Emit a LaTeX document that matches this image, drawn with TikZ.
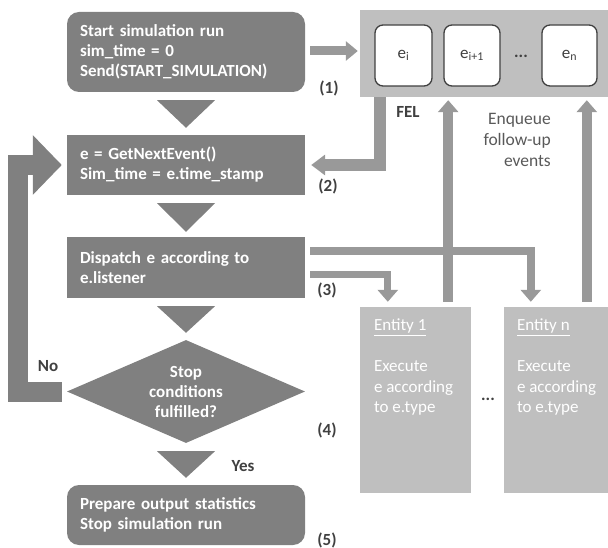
\documentclass[tikz,border=0pt]{standalone}
\usepackage{fontspec}
\setmainfont{Carlito}
\usetikzlibrary{arrows.meta,shapes.geometric,calc}
\definecolor{boxgray}{HTML}{808080}
\definecolor{ltfill}{HTML}{BFBFBF}
\definecolor{arrgray}{HTML}{999999}
\definecolor{txtdark}{HTML}{404040}
\definecolor{enqcol}{HTML}{595959}
\begin{document}
\begin{tikzpicture}[x=1pt,y=-1pt,
  dbox/.style={fill=boxgray, text=white, font=\fontsize{17}{20}\selectfont\bfseries, align=left, text width=212pt, inner xsep=13pt, inner ysep=0pt, minimum width=238pt},
  ebox/.style={draw=txtdark, line width=1.3pt, fill=white, rounded corners=8pt, text=txtdark, font=\fontsize{17}{20}\selectfont, minimum height=61pt, inner sep=0pt},
  ltbox/.style={fill=ltfill, draw=none, inner sep=0pt},
  wtext/.style={text=white, font=\fontsize{17}{20.5}\selectfont, align=left, inner sep=0pt},
  lab/.style={text=txtdark, font=\fontsize{17}{20}\selectfont\bfseries, inner sep=0pt},
  bigarr/.style={draw=boxgray, line width=20pt, line join=miter, -{Triangle[width=58pt,length=29pt]}},
  medarr/.style={draw=arrgray, line width=#1, line join=miter},
  tri/.style={fill=boxgray}
]
\useasboundingbox (0,0) rectangle (608,548);

% left column
\node[dbox, rounded corners=12pt, minimum height=80pt] (start) at (186,52) {Start simulation run\\sim\_time = 0\\Send(START\_SIMULATION)};
\node[dbox, minimum height=60pt] (b2) at (186,165) {e = GetNextEvent()\\Sim\_time = e.time\_stamp};
\node[dbox, minimum height=61pt] (disp) at (186,267.5) {Dispatch e according to\\e.listener};
\node[diamond, fill=boxgray, aspect=2.3, minimum width=238pt, minimum height=103pt, inner sep=0pt, text=white, font=\fontsize{17}{20}\selectfont\bfseries, align=center] (dia) at (186,391.5) {Stop\\conditions\\fulfilled?};
\node[dbox, rounded corners=12pt, minimum height=60pt] (fin) at (186,515) {Prepare output statistics\\Stop simulation run};

% triangles
\fill[tri] ($(start.south)+(-29,8)$) -- ($(start.south)+(29,8)$) -- ($(b2.north)+(0,-7)$) -- cycle;
\fill[tri] ($(b2.south)+(-29,8)$) -- ($(b2.south)+(29,8)$) -- ($(disp.north)+(0,-5)$) -- cycle;
\fill[tri] ($(disp.south)+(-29,8)$) -- ($(disp.south)+(29,8)$) -- ($(dia.north)+(0,-7)$) -- cycle;
\fill[tri] ($(dia.south)+(-29,8)$) -- ($(dia.south)+(29,8)$) -- ($(fin.north)+(0,-7)$) -- cycle;

% FEL
\node[ltbox, minimum width=248pt, minimum height=87pt] (fel) at (484,53.5) {};
\node[ebox, minimum width=57pt] (ei) at (403.5,55.5) {e\textsubscript{i}};
\node[ebox, minimum width=56pt] (ei1) at (472,55.5) {e\textsubscript{i+1}};
\node[lab] (fdots) at (521,56) {...};
\node[ebox, minimum width=55pt] (en) at (569.5,55.5) {e\textsubscript{n}};

% entities
\node[ltbox, minimum width=111pt, minimum height=186pt] (ent1) at (415.5,400) {};
\node[ltbox, minimum width=104pt, minimum height=186pt] (entn) at (556,400) {};
\node[wtext, anchor=north west] (ent1t) at ($(ent1.north west)+(14,12)$) {\underline{Entity 1}\\[20.5pt]Execute\\e according\\to e.type};
\node[wtext, anchor=north west] (entnt) at ($(entn.north west)+(13,12)$) {\underline{Entity n}\\[20.5pt]Execute\\e according\\to e.type};
\node[lab] (edots) at (488,399) {...};

% labels
\node[lab] (l1) at (329,88) {(1)};
\node[lab] (l2) at (328,186) {(2)};
\node[lab] (l3) at (327,290) {(3)};
\node[lab] (l4) at (327,430) {(4)};
\node[lab] (l5) at (327,540) {(5)};
\node[lab] (fellab) at (408,112) {FEL};
\node[lab] (no) at (48,366) {No};
\node[lab] (yes) at (243,466) {Yes};
\node[anchor=north east, align=right, inner sep=0pt, text=enqcol, font=\fontsize{17.5}{21}\selectfont] (enq) at (551,113) {Enqueue\\follow-up\\events};

% arrows
\draw[medarr=9pt, -{Triangle[width=19pt,length=12pt]}] ($(start.east)+(5,-1)$) -- ($(start.east -| fel.west)+(-2,-1)$);
\draw[medarr=12pt, -{Triangle[width=20pt,length=14pt]}] ($(ei.west |- fel.south)+(6,0)$) |- ($(b2.east)+(6,0)$);
\draw[medarr=8pt, -{Triangle[width=20pt,length=12pt]}] ($(disp.east)+(5,-16)$) -| ($(entn.north west)+(27,-5)$);
\draw[medarr=7pt, -{Triangle[width=20pt,length=12pt]}] ($(disp.east)+(5,7.5)$) -| ($(ent1.north west)+(28,-5)$);
\draw[medarr=10pt, -{Triangle[width=20pt,length=12pt]}] ($(ent1.north east)+(-23,-5)$) -- ($(ent1.north east |- fel.south)+(-23,3)$);
\draw[medarr=10pt, -{Triangle[width=20pt,length=12pt]}] ($(entn.north west)+(83,-5)$) -- ($(entn.north west |- fel.south)+(83,3)$);
\draw[bigarr] ($(dia.west)+(-5,0.5)$) -- ++(-44,0) |- ($(b2.west)+(-5,0)$);
\end{tikzpicture}
\end{document}
